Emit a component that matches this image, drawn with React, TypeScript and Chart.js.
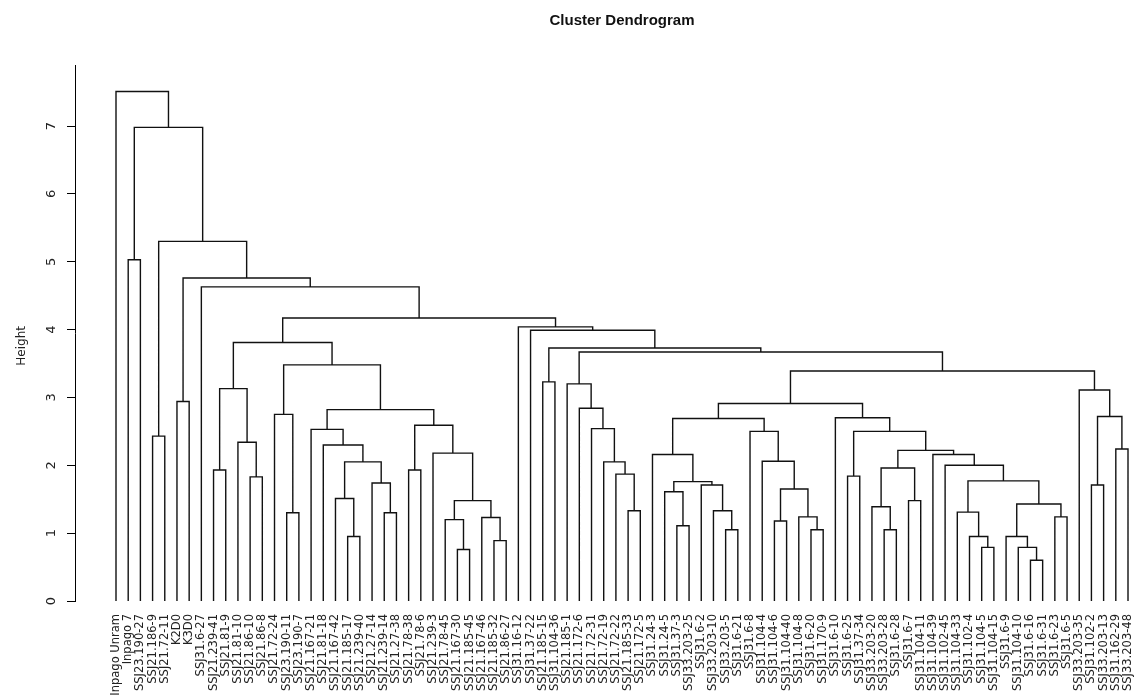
import React, { useEffect, useRef } from "react";
import { Chart, registerables } from "chart.js";

Chart.register(...registerables);

const chartTitle = "Cluster Dendrogram";
const yAxisTitle = "Height";

// Leaves in plotted (dendrogram) order
const leafLabels: string[] = [
  "Inpago Unram", "Inpago 7", "SSJ23.190-27", "SSJ21.186-9", "SSJ21.72-11", "K2D0", "K3D0",
  "SSJ31.6-27", "SSJ21.239-41", "SSJ21.81-9", "SSJ21.81-10", "SSJ21.86-10", "SSJ21.86-8",
  "SSJ21.72-24", "SSJ23.190-11", "SSJ23.190-7", "SSJ21.167-21", "SSJ21.81-18", "SSJ21.167-42",
  "SSJ21.185-17", "SSJ21.239-40", "SSJ21.27-14", "SSJ21.239-14", "SSJ21.27-38", "SSJ21.78-38",
  "SSJ21.78-6", "SSJ21.239-3", "SSJ21.78-45", "SSJ21.167-30", "SSJ21.185-45", "SSJ21.167-46",
  "SSJ21.185-32", "SSJ21.86-27", "SSJ31.16-12", "SSJ31.37-22", "SSJ21.185-15", "SSJ31.104-36",
  "SSJ21.185-1", "SSJ21.172-6", "SSJ21.72-31", "SSJ21.72-19", "SSJ21.72-22", "SSJ21.185-33",
  "SSJ21.172-5", "SSJ31.24-3", "SSJ31.24-5", "SSJ31.37-3", "SSJ33.203-25", "SSJ31.6-2",
  "SSJ33.203-10", "SSJ33.203-5", "SSJ31.6-21", "SSJ31.6-8", "SSJ31.104-4", "SSJ31.104-6",
  "SSJ31.104-40", "SSJ31.104-8", "SSJ31.6-20", "SSJ31.170-9", "SSJ31.6-10", "SSJ31.6-25",
  "SSJ31.37-34", "SSJ33.203-20", "SSJ33.203-28", "SSJ31.6-28", "SSJ31.6-7", "SSJ31.104-11",
  "SSJ31.104-39", "SSJ31.102-45", "SSJ31.104-33", "SSJ31.102-4", "SSJ31.104-5", "SSJ31.104-15",
  "SSJ31.6-9", "SSJ31.104-10", "SSJ31.6-16", "SSJ31.6-31", "SSJ31.6-23", "SSJ31.6-5",
  "SSJ33.203-35", "SSJ31.102-2", "SSJ33.203-13", "SSJ31.162-29", "SSJ33.203-48",
];

// hclust-style merge table: negative = leaf (1-based position), positive = earlier merge row (1-based)
const mergeLeft: number[] = [
  -2, -4, -6, -9, -12, -11, 4, -15, -14, -20, -19, -23, -22, 11, -18, -17, -25, -29, -28, -32,
  -31, 19, -27, 17, 16, 9, 7, -36, -43, -42, -41, -40, -39, -38, -47, -46, -51, -50, -49, 36,
  -45, -55, -58, -57, 42, -54, -53, 41, -61, -64, -63, -66, 51, -72, -71, -70, -76, -75, -74, -78,
  59, 56, -69, -68, 53, 49, -60, 48, -81, -83, 69, -80, 68, 34, 28, -35, -34, 27, -8, 3,
  2, 1, -1,
];
const mergeRight: number[] = [
  -3, -5, -7, -10, -13, 5, 6, -16, 8, -21, 10, -24, 12, 13, 14, 15, -26, -30, 18, -33,
  20, 21, 22, 23, 24, 25, 26, -37, -44, 29, 30, 31, 32, 33, -48, 35, -52, 37, 38, 39,
  40, -56, -59, 43, 44, 45, 46, 47, -62, -65, 50, -67, 52, -73, 54, 55, -77, 57, 58, -79,
  60, 61, 62, 63, 64, 65, 66, 67, -82, -84, 70, 71, 72, 73, 74, 75, 76, 77, 78, 79,
  80, 81, 82,
];
const mergeHeight: number[] = [
  5.03, 2.43, 2.94, 1.93, 1.83, 2.34, 3.13, 1.30, 2.75, 0.95, 1.51, 1.30, 1.74, 2.05, 2.30, 2.53, 1.93, 0.76, 1.20, 0.89,
  1.23, 1.48, 2.18, 2.59, 2.82, 3.48, 3.81, 3.23, 1.33, 1.87, 2.05, 2.54, 2.84, 3.20, 1.11, 1.61, 1.05, 1.33, 1.71, 1.76,
  2.16, 1.18, 1.05, 1.24, 1.65, 2.06, 2.50, 2.69, 1.84, 1.05, 1.39, 1.48, 1.96, 0.79, 0.95, 1.31, 0.60, 0.79, 0.95, 1.24,
  1.43, 1.77, 2.00, 2.16, 2.22, 2.50, 2.70, 2.91, 1.71, 2.24, 2.72, 3.11, 3.39, 3.67, 3.73, 3.99, 4.04, 4.17, 4.63, 4.76,
  5.30, 6.98, 7.51,
];

const heightTicks: number[] = [0, 1, 2, 3, 4, 5, 6, 7];

function buildSegments() {
  const nodeX: number[] = [];
  const nodeH: number[] = [];
  const pts: { x: number; y: number | null }[] = [];
  const pos = (ref: number) =>
    ref < 0 ? { x: -ref, h: 0 } : { x: nodeX[ref - 1], h: nodeH[ref - 1] };
  mergeHeight.forEach((h, i) => {
    const a = pos(mergeLeft[i]);
    const b = pos(mergeRight[i]);
    pts.push({ x: a.x, y: a.h }, { x: a.x, y: h }, { x: b.x, y: h }, { x: b.x, y: b.h }, { x: b.x, y: null });
    nodeX.push((a.x + b.x) / 2);
    nodeH.push(h);
  });
  return pts;
}

const labelFont = '"DejaVu Sans", "Liberation Sans", sans-serif';

// R-style titles: main title centred over the plot region, ylab centred on the plot region's height
const titlePlugin = {
  id: "rTitle",
  afterDraw(chart: any) {
    const { ctx, scales } = chart;
    const x = scales.x.getPixelForValue((1 + leafLabels.length) / 2);
    const yMid = scales.y.getPixelForValue((7.82 - 0.3) / 2);
    ctx.save();
    ctx.font = 'bold 15px "Liberation Sans Narrow", "Liberation Sans", Arial, sans-serif';
    ctx.fillStyle = "#111";
    ctx.textAlign = "center";
    ctx.textBaseline = "middle";
    ctx.fillText(chartTitle, x, 21);
    ctx.translate(22, yMid);
    ctx.rotate(-Math.PI / 2);
    ctx.font = '12px "DejaVu Sans", "Liberation Sans", sans-serif';
    ctx.fillStyle = "#222";
    ctx.fillText(yAxisTitle, 0, 0);
    ctx.restore();
  },
};

export default function App() {
  const ref = useRef<HTMLCanvasElement>(null);
  useEffect(() => {
    if (!ref.current) return;
    const chart = new Chart(ref.current, {
      type: "line",
      data: {
        datasets: [
          {
            data: buildSegments() as any,
            borderColor: "#111",
            borderWidth: 1.4,
            pointRadius: 0,
            pointHoverRadius: 0,
            fill: false,
            tension: 0,
            spanGaps: false,
          },
        ],
      },
      options: {
        animation: false,
        responsive: false,
        events: [],
        layout: { padding: { top: 65, left: 0, right: 0, bottom: 0 } },
        plugins: {
          legend: { display: false },
          tooltip: { enabled: false },
          title: { display: false },
        },
        scales: {
          x: {
            type: "linear",
            min: -2.363,
            max: 84.574,
            grid: { display: false },
            border: { display: false },
            afterBuildTicks: (scale: any) => {
              scale.ticks = leafLabels.map((_, i) => ({ value: i + 1 }));
            },
            afterFit: (scale: any) => {
              scale.height = 95;
              scale.paddingLeft = 0;
              scale.paddingRight = 0;
            },
            ticks: {
              autoSkip: false,
              minRotation: 90,
              maxRotation: 90,
              padding: 5,
              color: "#222",
              font: { family: labelFont, size: 11.5 },
              callback: (v: any) => leafLabels[Math.round(Number(v)) - 1] ?? "",
            },
          },
          y: {
            type: "linear",
            position: "left",
            min: 0,
            max: 7.9,
            afterBuildTicks: (scale: any) => {
              scale.ticks = heightTicks.map((v) => ({ value: v }));
            },
            afterFit: (scale: any) => {
              scale.width = 75;
              scale.paddingTop = 0;
              scale.paddingBottom = 0;
            },
            grid: {
              drawOnChartArea: false,
              drawTicks: true,
              tickLength: 8,
              color: "#000",
              lineWidth: 1,
            },
            border: { display: true, color: "#000", width: 1 },
            ticks: {
              minRotation: 90,
              maxRotation: 90,
              crossAlign: "center",
              padding: 11,
              color: "#222",
              font: { family: labelFont, size: 13 },
            },
          },
        },
      },
      plugins: [titlePlugin],
    } as any);
    return () => chart.destroy();
  }, []);
  return (
    <div style={{ position: "fixed", left: 0, top: 0, width: 1135, height: 696, background: "#fff" }}>
      <canvas ref={ref} width={1135} height={696} style={{ display: "block" }} />
    </div>
  );
}
